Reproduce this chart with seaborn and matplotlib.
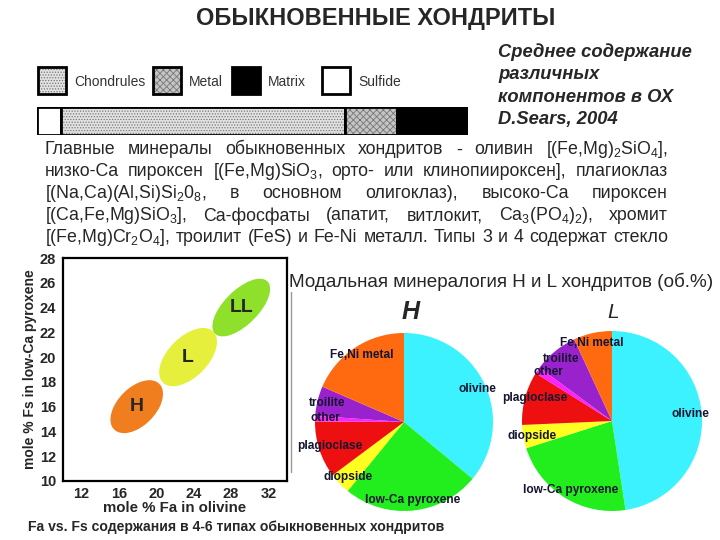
import numpy as np
import matplotlib
matplotlib.use("Agg")
import matplotlib.pyplot as plt
from matplotlib.patches import Ellipse, Rectangle
import seaborn as sns

# --- данные ---
# средний состав обыкновенных хондритов (D.Sears, 2004), об.%
comp_names = ["Sulfide", "Chondrules", "Metal", "Matrix"]
comp_values = [5.5, 66.0, 12.0, 16.5]

# поля H / L / LL на диаграмме Fa-Fs
field_names = ["H", "L", "LL"]
field_fa = [17.9, 23.4, 29.1]
field_fs = [16.0, 20.0, 24.0]
field_width = [6.2, 6.9, 7.1]
field_height = [3.4, 3.6, 3.1]
field_angle = [30, 31, 33]

# модальная минералогия, об.%
minerals = ["olivine", "low-Ca pyroxene", "diopside", "plagioclase",
            "other", "troilite", "Fe,Ni metal"]
h_modal = [36.0, 24.9, 3.9, 10.3, 1.0, 5.4, 18.5]
l_modal = [47.6, 22.5, 4.2, 9.6, 1.2, 8.0, 6.9]

x_ticks = [12, 16, 20, 24, 28, 32]
y_ticks = [10, 12, 14, 16, 18, 20, 22, 24, 26, 28]

para_lines = [
    "Главные минералы обыкновенных хондритов - оливин [(Fe,Mg)$_2$SiO$_4$],",
    "низко-Ca пироксен [(Fe,Mg)SiO$_3$, орто- или клинопиироксен], плагиоклаз",
    "[(Na,Ca)(Al,Si)Si$_2$0$_8$, в основном олигоклаз), высоко-Ca пироксен",
    "[(Ca,Fe,Mg)SiO$_3$], Ca-фосфаты (апатит, витлокит, Ca$_3$(PO$_4$)$_2$), хромит",
    "[(Fe,Mg)Cr$_2$O$_4$], троилит (FeS) и Fe-Ni металл. Типы 3 и 4 содержат стекло",
]

# --- стиль ---
sns.set_theme(style="white")
plt.rcParams["font.family"] = ["Liberation Sans", "DejaVu Sans"]
plt.rcParams["mathtext.fontset"] = "custom"
plt.rcParams["mathtext.rm"] = "Liberation Sans"
plt.rcParams["mathtext.default"] = "regular"
plt.rcParams["hatch.linewidth"] = 0.6

field_colors = ["#F07D1E", "#E6F03C", "#8EE02A"]
mineral_colors = sns.color_palette(["#3CF2FF", "#22EE1E", "#FFFF22", "#EE1010",
                                    "#FF22FF", "#9922CC", "#FF6A10"])
comp_style = {
    "Sulfide": dict(fc="white", hatch=None),
    "Chondrules": dict(fc="#e2e2e2", hatch="......"),
    "Metal": dict(fc="#c4c4c4", hatch="xxxxx"),
    "Matrix": dict(fc="black", hatch=None),
}

fig = plt.figure(figsize=(7.2, 5.4), dpi=100)
fig.patch.set_facecolor("white")

# фоновая ось в пикселях для текста
bg = fig.add_axes([0, 0, 1, 1])
bg.set_xlim(0, 720)
bg.set_ylim(540, 0)
bg.axis("off")

bg.text(376, 18, "ОБЫКНОВЕННЫЕ ХОНДРИТЫ", ha="center", va="center",
        fontsize=17, fontweight="bold")

for i, line in enumerate(["Среднее содержание", "различных",
                          "компонентов в ОХ", "D.Sears, 2004"]):
    bg.text(498, 52 + i * 22.5, line, ha="left", va="center", fontsize=13.2,
            fontweight="bold", fontstyle="italic")

# легенда
legend_pos = {"Chondrules": 38, "Metal": 153, "Matrix": 232, "Sulfide": 322}
for name in ["Chondrules", "Metal", "Matrix", "Sulfide"]:
    x0 = legend_pos[name]
    st = comp_style[name]
    bg.add_patch(Rectangle((x0, 67), 28, 27, facecolor=st["fc"], edgecolor="#777777",
                           hatch=st["hatch"], linewidth=0))
    bg.add_patch(Rectangle((x0, 67), 28, 27, fill=False, edgecolor="black", linewidth=2))
    bg.text(x0 + 36, 82, name, ha="left", va="center", fontsize=10, color="#333333")

# полоса состава
ax_bar = fig.add_axes([37 / 720, 1 - 135 / 540, 431 / 720, 28 / 540])
lefts = np.concatenate([[0], np.cumsum(comp_values)[:-1]])
for name, v, l in zip(comp_names, comp_values, lefts):
    st = comp_style[name]
    ax_bar.barh(0, v, left=l, height=1, color=st["fc"], edgecolor="#777777",
                hatch=st["hatch"], linewidth=0)
    ax_bar.barh(0, v, left=l, height=1, fill=False, edgecolor="black", linewidth=2)
ax_bar.set_xlim(0, sum(comp_values))
ax_bar.set_ylim(-0.5, 0.5)
ax_bar.axis("off")

# абзац с выравниванием по ширине
renderer = fig.canvas.get_renderer()
px0, px1 = 45, 668
for i, line in enumerate(para_lines):
    y = 150 + i * 22
    words = line.split(" ")
    txts = [bg.text(0, y, w, ha="left", va="center", fontsize=12.8) for w in words]
    widths = [t.get_window_extent(renderer).width for t in txts]
    gap = (px1 - px0 - sum(widths)) / (len(words) - 1)
    x = px0
    for t, w in zip(txts, widths):
        t.set_x(x)
        x += w + gap

# диаграмма Fa-Fs
ax = fig.add_axes([63 / 720, 1 - 481 / 540, 224 / 720, 223 / 540])
for n, fa, fs, w, h, a, c in zip(field_names, field_fa, field_fs, field_width,
                                 field_height, field_angle, field_colors):
    ax.add_patch(Ellipse((fa, fs), w, h, angle=a, facecolor=c, edgecolor="none"))
    ax.text(fa, fs, n, ha="center", va="center", fontsize=14, fontweight="bold")
ax.set_xlim(10, 34)
ax.set_ylim(10, 28)
ax.set_xticks(x_ticks)
ax.set_yticks(y_ticks)
ax.tick_params(axis="x", direction="in", length=3, width=1.2, pad=4)
ax.tick_params(axis="y", direction="out", length=3, width=1.2, pad=2)
for lab in ax.get_xticklabels() + ax.get_yticklabels():
    lab.set_fontweight("bold")
    lab.set_fontsize(10.5)
for sp in ax.spines.values():
    sp.set_color("black")
    sp.set_linewidth(1.6)
ax.set_xlabel("mole % Fa in olivine", fontsize=10.8, fontweight="bold", labelpad=0)
ax.set_ylabel("mole % Fs in low-Ca pyroxene", fontsize=10, fontweight="bold", labelpad=2)
ax.set_facecolor("white")

bg.text(28, 527, "Fa vs. Fs содержания в 4-6 типах обыкновенных хондритов",
        ha="left", va="center", fontsize=10.1, fontweight="bold")

bg.text(289, 282, "Модальная минералогия H и L хондритов (об.%)", ha="left",
        va="center", fontsize=13.6)
bg.plot([291, 291], [292, 472], color="#999999", linewidth=1)

# круговые диаграммы
label_pos_h = {"olivine": (0.82, 0.37), "low-Ca pyroxene": (0.10, -0.88),
               "diopside": (-0.63, -0.62), "plagioclase": (-0.83, -0.27),
               "other": (-0.88, 0.04), "troilite": (-0.86, 0.21),
               "Fe,Ni metal": (-0.48, 0.75)}
label_pos_l = {"olivine": (0.87, 0.08), "low-Ca pyroxene": (-0.46, -0.77),
               "diopside": (-0.89, -0.17), "plagioclase": (-0.86, 0.26),
               "other": (-0.71, 0.54), "troilite": (-0.56, 0.69),
               "Fe,Ni metal": (-0.23, 0.87)}

for vals, (cx, cy, r), lpos, title, tsize, ty in [
        (h_modal, (404, 422, 89), label_pos_h, "H", 18, 312),
        (l_modal, (612, 421, 90), label_pos_l, "L", 15, 313)]:
    pax = fig.add_axes([(cx - r) / 720, (540 - cy - r) / 540, 2 * r / 720, 2 * r / 540])
    pax.pie(vals, colors=mineral_colors, startangle=90, counterclock=False,
            radius=1, wedgeprops=dict(linewidth=0))
    pax.set_xlim(-1, 1)
    pax.set_ylim(-1, 1)
    pax.axis("off")
    for m in minerals:
        lx, ly = lpos[m]
        pax.text(lx, ly, m, ha="center", va="center", fontsize=8.6,
                 fontweight="bold", color="#151530")
    bg.text(cx + 7 if title == "H" else cx + 1, ty, title, ha="center", va="center",
            fontsize=tsize, fontstyle="italic", fontweight="bold" if title == "H" else "normal")

fig.savefig("out.png", dpi=100, facecolor="white")
